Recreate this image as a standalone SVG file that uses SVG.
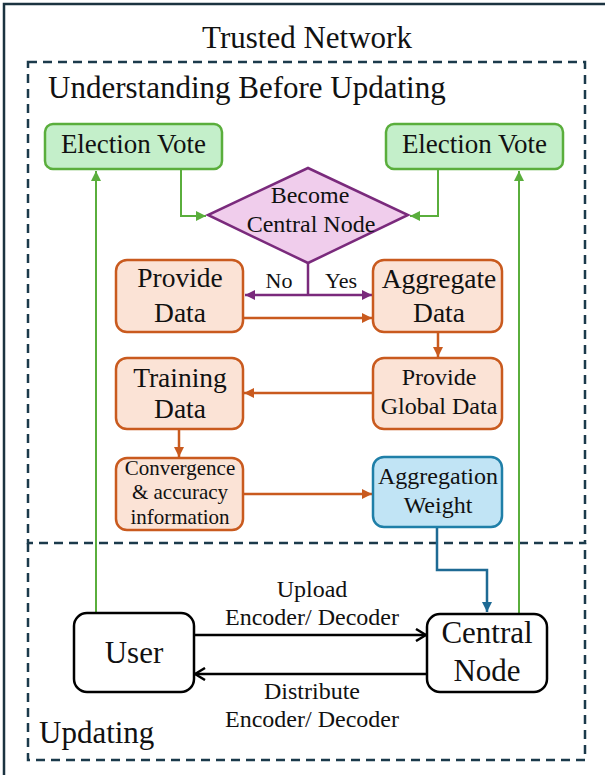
<svg xmlns="http://www.w3.org/2000/svg" width="605" height="775" viewBox="0 0 605 775">
<defs>
<style>
text{font-family:"Liberation Serif","Times New Roman",serif;fill:#111;text-anchor:middle}
.title{font-size:31px}
.green{fill:#c4efca;stroke:#5aae3c;stroke-width:2.5}
.orange{fill:#fbe3d6;stroke:#c95a1e;stroke-width:2.5}
.blue{fill:#c1e4f5;stroke:#1f7fa8;stroke-width:2.5}
.purple{fill:#f0cdec;stroke:#7a2a7c;stroke-width:2.5}
.white{fill:#fff;stroke:#000;stroke-width:2.5}
.dash{fill:none;stroke:#1b3a4b;stroke-width:2.5;stroke-dasharray:9 6}
.cg{fill:none;stroke:#5aae3c;stroke-width:2}
.co{fill:none;stroke:#c95a1e;stroke-width:2.5}
.cp{fill:none;stroke:#7a2a7c;stroke-width:2.5}
.cb{fill:none;stroke:#1e6a94;stroke-width:2.5}
.ck{fill:none;stroke:#000;stroke-width:2.5}
</style>
<marker id="ag" markerUnits="userSpaceOnUse" viewBox="0 0 10 10" refX="10" refY="5" markerWidth="11" markerHeight="10" orient="auto"><path d="M0,0L10,5L0,10z" fill="#5aae3c"/></marker>
<marker id="ao" markerUnits="userSpaceOnUse" viewBox="0 0 10 10" refX="10" refY="5" markerWidth="11" markerHeight="10" orient="auto"><path d="M0,0L10,5L0,10z" fill="#c95a1e"/></marker>
<marker id="ap" markerUnits="userSpaceOnUse" viewBox="0 0 10 10" refX="10" refY="5" markerWidth="11" markerHeight="10" orient="auto-start-reverse"><path d="M0,0L10,5L0,10z" fill="#7a2a7c"/></marker>
<marker id="ab" markerUnits="userSpaceOnUse" viewBox="0 0 10 10" refX="10" refY="5" markerWidth="11" markerHeight="10" orient="auto"><path d="M0,0L10,5L0,10z" fill="#1e6a94"/></marker>
<marker id="ak" markerUnits="userSpaceOnUse" viewBox="0 0 12 14" refX="11" refY="7" markerWidth="12" markerHeight="14" orient="auto"><path d="M1,1L11,7L1,13" fill="none" stroke="#000" stroke-width="2.5"/></marker>
</defs>

<g id="frame">
<rect x="4" y="4" width="620" height="790" fill="none" stroke="#1b3340" stroke-width="2.5"/>
<text class="title" x="307" y="48">Trusted Network</text>
</g>
<g id="understanding">
<rect class="dash" x="28" y="62" width="557" height="481"/>
<text class="title" x="48" y="98" style="text-anchor:start">Understanding Before Updating</text>
</g>
<g id="updating">
<path class="dash" d="M28,543V760H585V543"/>
<text class="title" x="39" y="743" style="text-anchor:start">Updating</text>
</g>

<g id="connectors">
<path class="cg" d="M181,169V216H206" marker-end="url(#ag)"/>
<path class="cg" d="M438,169V216H410" marker-end="url(#ag)"/>
<path class="cg" d="M96,613V171" marker-end="url(#ag)"/>
<path class="cg" d="M519,613V171" marker-end="url(#ag)"/>
<path class="cp" d="M308,263V295"/>
<path class="cp" d="M308,295H245" marker-end="url(#ap)"/>
<path class="cp" d="M308,295H372" marker-end="url(#ap)"/>
<path class="co" d="M243,318H372" marker-end="url(#ao)"/>
<path class="co" d="M438,332V357" marker-end="url(#ao)"/>
<path class="co" d="M373,393H244" marker-end="url(#ao)"/>
<path class="co" d="M179,429V457" marker-end="url(#ao)"/>
<path class="co" d="M243,494H372" marker-end="url(#ao)"/>
<path class="cb" d="M437,527V570H487V612" marker-end="url(#ab)"/>
<path class="ck" d="M194,635H426" marker-end="url(#ak)"/>
<path class="ck" d="M427,674H195" marker-end="url(#ak)"/>
<g style="font-size:22px">
<text x="279" y="288">No</text>
<text x="341" y="288">Yes</text>
</g>
<g style="font-size:24px">
<text x="312" y="597">Upload</text>
<text x="312" y="625">Encoder/ Decoder</text>
<text x="312" y="699">Distribute</text>
<text x="312" y="727">Encoder/ Decoder</text>
</g>
</g>

<g id="election-left">
<rect class="green" x="45" y="124" width="177" height="45" rx="8"/>
<text x="133.5" y="153" style="font-size:27px">Election Vote</text>
</g>
<g id="election-right">
<rect class="green" x="386" y="124" width="177" height="45" rx="8"/>
<text x="474.5" y="153" style="font-size:27px">Election Vote</text>
</g>
<g id="become-central">
<path class="purple" d="M308,168L408,215L308,263L208,215z"/>
<text x="310" y="203" style="font-size:24px">Become</text>
<text x="311" y="232" style="font-size:24px">Central Node</text>
</g>
<g id="provide-data">
<rect class="orange" x="116" y="260" width="127" height="72" rx="11"/>
<text x="180" y="287" style="font-size:27.5px">Provide</text>
<text x="180" y="322" style="font-size:27.5px">Data</text>
</g>
<g id="aggregate-data">
<rect class="orange" x="373" y="260" width="129" height="72" rx="11"/>
<text x="439" y="288" style="font-size:27.5px">Aggregate</text>
<text x="439" y="322" style="font-size:27.5px">Data</text>
</g>
<g id="training-data">
<rect class="orange" x="116" y="358" width="127" height="71" rx="11"/>
<text x="180" y="387" style="font-size:27.5px">Training</text>
<text x="180" y="418" style="font-size:27.5px">Data</text>
</g>
<g id="provide-global">
<rect class="orange" x="373" y="358" width="129" height="71" rx="11"/>
<text x="439" y="385" style="font-size:24px">Provide</text>
<text x="439" y="414" style="font-size:24px">Global Data</text>
</g>
<g id="convergence">
<rect class="orange" x="116" y="458" width="127" height="72" rx="11"/>
<text x="180" y="475" style="font-size:21px">Convergence</text>
<text x="180" y="499" style="font-size:21px">&amp; accuracy</text>
<text x="180" y="524" style="font-size:21px">information</text>
</g>
<g id="aggregation-weight">
<rect class="blue" x="373" y="457" width="129" height="70" rx="11"/>
<text x="438" y="484" style="font-size:24px">Aggregation</text>
<text x="438" y="513" style="font-size:24px">Weight</text>
</g>
<g id="user">
<rect class="white" x="74" y="613" width="120" height="79" rx="13"/>
<text x="134" y="663" style="font-size:31px">User</text>
</g>
<g id="central-node">
<rect class="white" x="427" y="614" width="120" height="78" rx="13"/>
<text x="487" y="643" style="font-size:31px">Central</text>
<text x="487" y="681" style="font-size:31px">Node</text>
</g>
</svg>
